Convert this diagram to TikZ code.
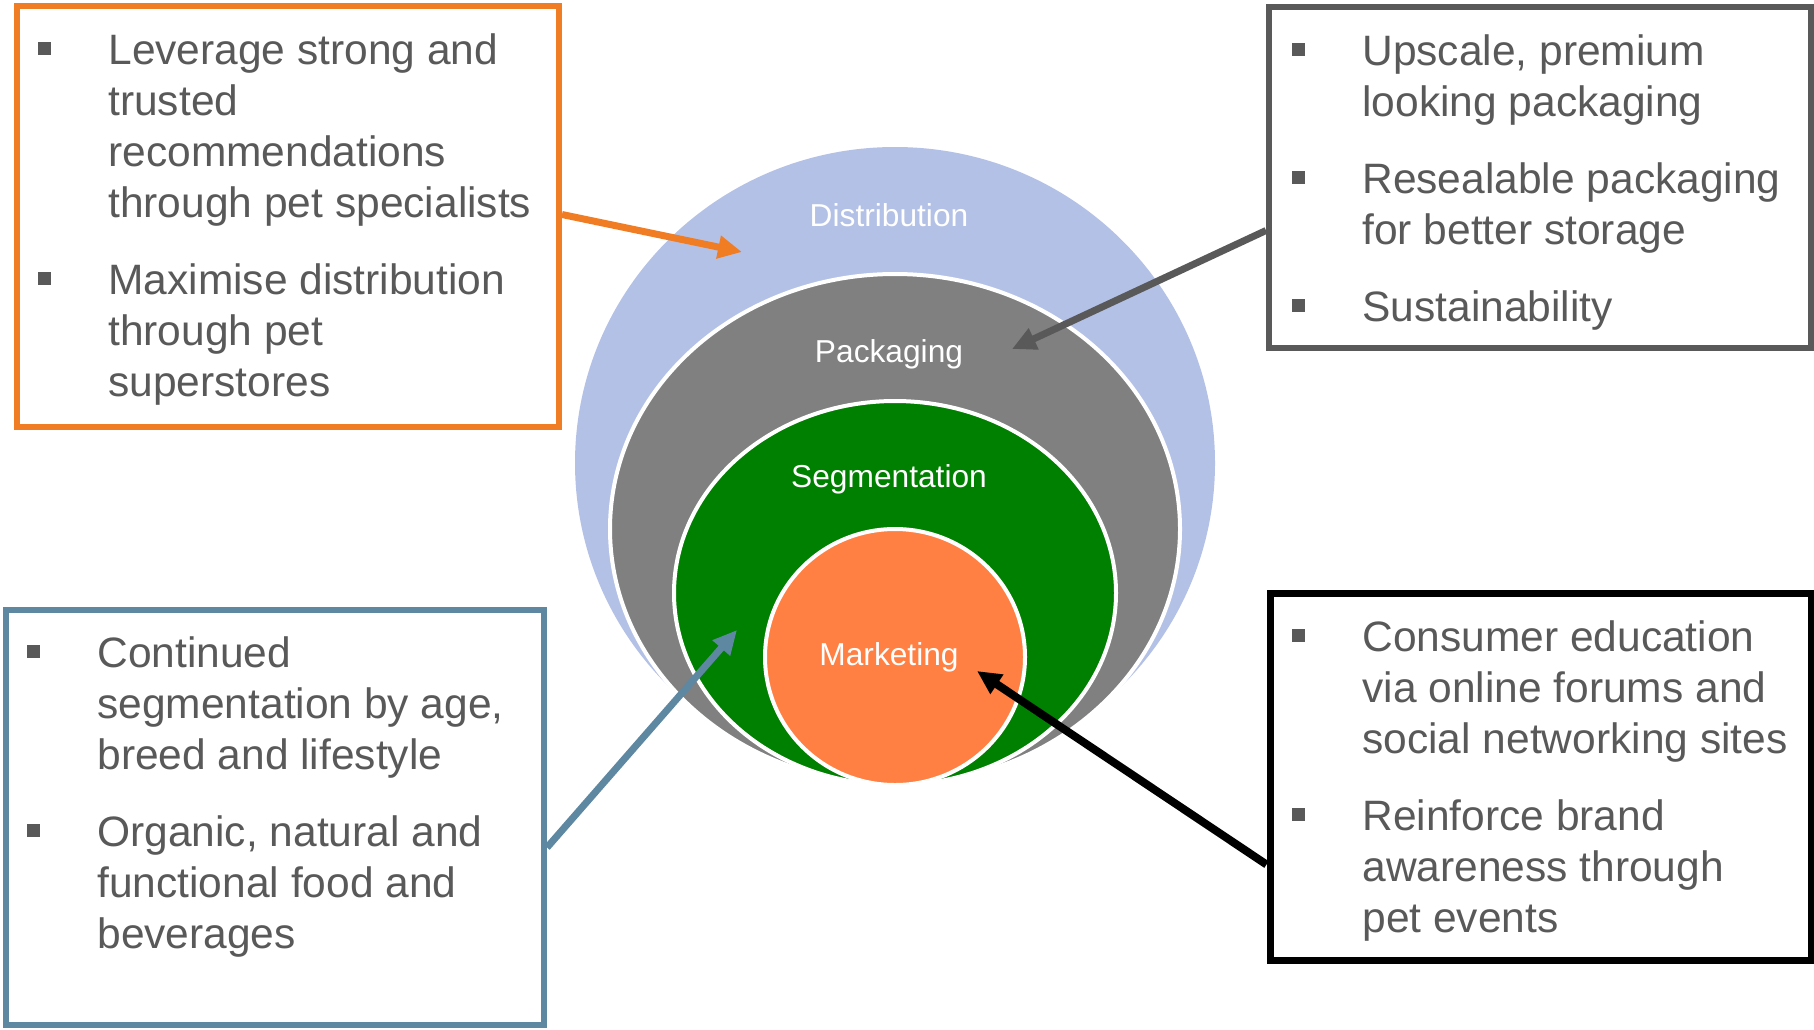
\documentclass[tikz,border=0pt]{standalone}
\usepackage{fontspec}
\setmainfont{Liberation Sans}
\usetikzlibrary{arrows.meta,shapes.geometric,calc}

\definecolor{distblue}{RGB}{180,193,230}
\definecolor{packgray}{RGB}{128,128,128}
\definecolor{seggreen}{RGB}{0,128,0}
\definecolor{mktorange}{RGB}{255,128,66}
\definecolor{boxorange}{RGB}{240,125,35}
\definecolor{boxgray}{RGB}{89,89,89}
\definecolor{boxblue}{RGB}{94,135,162}
\definecolor{txtgray}{RGB}{89,89,89}

% square bullet used in the text boxes
\newcommand\bsq{\makebox[35pt][l]{\textcolor{txtgray}{\raisebox{0.21em}{\rule{0.3em}{0.3em}}}}}

\tikzset{
  ring/.style={ellipse, inner sep=0pt, draw=white, line width=2pt},
  ringlabel/.style={text=white, inner sep=0pt, font=\fontsize{15.85pt}{19pt}\selectfont},
  infobox/.style={rectangle, inner sep=0pt, fill=white, line width=3pt},
  infotext/.style={anchor=base west, inner sep=0pt, text=txtgray,
    font=\fontsize{21.25pt}{25.5pt}\selectfont},
  link/.style={line width=3.5pt, -{Triangle[length=12pt,width=11pt]}},
}

\begin{document}
\begin{tikzpicture}[x=0.5pt,y=-0.5pt]
\useasboundingbox (0,0) rectangle (1814,1029);

% nested rings
\node[ring, draw=none, fill=distblue, minimum width=320pt, minimum height=316pt] (dist) at (895,463) {};
\node[ring, fill=packgray, minimum width=285pt, minimum height=255pt] (pack) at (895,529) {};
\node[ring, fill=seggreen, minimum width=221pt, minimum height=192pt] (seg) at (895,593) {};
\node[ring, fill=mktorange, minimum width=130pt, minimum height=128pt] (mkt) at (895,657) {};

\node[ringlabel] (distlbl) at (889,215) {Distribution};
\node[ringlabel] (packlbl) at (889,354.5) {Packaging};
\node[ringlabel] (seglbl) at (889,479.5) {Segmentation};
\node[ringlabel] (mktlbl) at (889,657.5) {Marketing};

% callout boxes
\node[infobox, draw=boxorange, minimum width=271pt, minimum height=210.5pt] (obox) at (288,216.5) {};
\node[infobox, draw=boxgray, minimum width=271pt, minimum height=170.5pt] (gbox) at (1540,177.5) {};
\node[infobox, draw=boxblue, minimum width=269pt, minimum height=207.5pt] (bbox) at (275,817.5) {};
\node[infobox, draw=black, line width=3.5pt, minimum width=270.5pt, minimum height=183.5pt] (kbox) at (1540.5,776.5) {};

\node[infotext] (otext) at (38,64) {\begin{tabular}[t]{@{}l@{}l@{}}
\bsq & Leverage strong and\\
 & trusted\\
 & recommendations\\
 & through pet specialists\\[13pt]
\bsq & Maximise distribution\\
 & through pet\\
 & superstores
\end{tabular}};

\node[infotext] (gtext) at (1292,65) {\begin{tabular}[t]{@{}l@{}l@{}}
\bsq & Upscale, premium\\
 & looking packaging\\[13pt]
\bsq & Resealable packaging\\
 & for better storage\\[13pt]
\bsq & Sustainability
\end{tabular}};

\node[infotext] (btext) at (27,667) {\begin{tabular}[t]{@{}l@{}l@{}}
\bsq & Continued\\
 & segmentation by age,\\
 & breed and lifestyle\\[13pt]
\bsq & Organic, natural and\\
 & functional food and\\
 & beverages
\end{tabular}};

\node[infotext] (ktext) at (1292,651) {\begin{tabular}[t]{@{}l@{}l@{}}
\bsq & Consumer education\\
 & via online forums and\\
 & social networking sites\\[13pt]
\bsq & Reinforce brand\\
 & awareness through\\
 & pet events
\end{tabular}};

% arrow targets inside the rings
\coordinate (distpt) at (742,252);
\coordinate (packpt) at (1012,349);
\coordinate (segpt) at (737,630);
\coordinate (mktpt) at (977,671);

% connectors
\draw[link, boxorange] ($(obox.east)+(0,-2)$) -- (distpt);
\draw[link, boxgray] ($(gbox.west)+(0,53)$) -- (packpt);
\draw[link, boxblue] ($(bbox.east)+(0,30)$) -- (segpt);
\draw[link, black, line width=4pt] ($(kbox.west)+(0,88)$) -- (mktpt);
\end{tikzpicture}
\end{document}
